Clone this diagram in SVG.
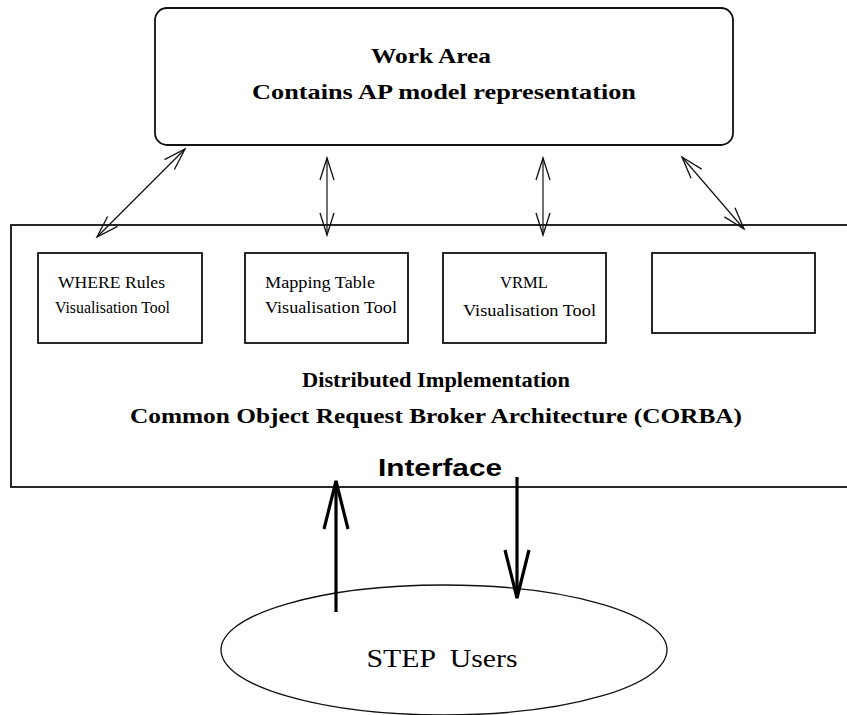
<svg xmlns="http://www.w3.org/2000/svg" width="847" height="715" viewBox="0 0 847 715">
<defs>
<style>
.box{fill:#fff;stroke:#111;stroke-width:1.8}
.serif{font-family:"Liberation Serif","Times New Roman",serif;fill:#000}
.b{font-weight:bold}
.thin{stroke:#111;stroke-width:1.2;fill:none}
.thick{stroke:#000;stroke-width:3.2;fill:none}
</style>
<marker id="ah" markerUnits="userSpaceOnUse" markerWidth="30" markerHeight="24" viewBox="-24 -12 28 24" refX="0" refY="0" orient="auto-start-reverse">
<path d="M-22,-7 L0,0 L-22,7" fill="none" stroke="#111" stroke-width="1.3"/>
</marker>
<marker id="ahb" markerUnits="userSpaceOnUse" markerWidth="60" markerHeight="34" viewBox="-52 -17 56 34" refX="0" refY="0" orient="auto">
<path d="M-48,-12 L0,0 L-48,12" fill="none" stroke="#000" stroke-width="3.2"/>
</marker>
</defs>
<rect width="847" height="715" fill="#fff"/>

<g id="main-area">
<rect class="box" x="11" y="225" width="850" height="262"/>
<text class="serif b" x="436" y="387" font-size="21" text-anchor="middle" textLength="268" lengthAdjust="spacingAndGlyphs">Distributed Implementation</text>
<text class="serif b" x="436" y="423" font-size="21" text-anchor="middle" textLength="612" lengthAdjust="spacingAndGlyphs">Common Object Request Broker Architecture (CORBA)</text>
<text x="440" y="476" font-family="'Liberation Sans',Arial,sans-serif" font-weight="bold" font-size="23" text-anchor="middle" textLength="124" lengthAdjust="spacingAndGlyphs">Interface</text>
</g>

<g id="work-area">
<rect class="box" x="155" y="8" width="578" height="137" rx="12" ry="12"/>
<text class="serif b" x="431" y="63" font-size="21" text-anchor="middle" textLength="120" lengthAdjust="spacingAndGlyphs">Work Area</text>
<text class="serif b" x="444" y="99" font-size="22" text-anchor="middle" textLength="384" lengthAdjust="spacingAndGlyphs">Contains AP model representation</text>
</g>

<g id="where-rules">
<rect class="box" x="38" y="253" width="164" height="90"/>
<text class="serif" x="58" y="288" font-size="16" textLength="107" lengthAdjust="spacingAndGlyphs">WHERE Rules</text>
<text class="serif" x="55" y="313" font-size="16" textLength="115" lengthAdjust="spacingAndGlyphs">Visualisation Tool</text>
</g>

<g id="mapping-table">
<rect class="box" x="245" y="253" width="163" height="90"/>
<text class="serif" x="265" y="288" font-size="16" textLength="110" lengthAdjust="spacingAndGlyphs">Mapping Table</text>
<text class="serif" x="265" y="313" font-size="16" textLength="132" lengthAdjust="spacingAndGlyphs">Visualisation Tool</text>
</g>

<g id="vrml">
<rect class="box" x="443" y="253" width="163" height="90"/>
<text class="serif" x="524" y="288" font-size="16" text-anchor="middle" textLength="48" lengthAdjust="spacingAndGlyphs">VRML</text>
<text class="serif" x="463" y="316" font-size="16" textLength="133" lengthAdjust="spacingAndGlyphs">Visualisation Tool</text>
</g>

<g id="empty-tool">
<rect class="box" x="652" y="253" width="163" height="80"/>
</g>

<g id="step-users">
<ellipse cx="444" cy="650" rx="223" ry="65" fill="#fff" stroke="#111" stroke-width="1.3"/>
<text class="serif" x="442" y="667" font-size="26" text-anchor="middle" textLength="151" lengthAdjust="spacingAndGlyphs" xml:space="preserve">STEP  Users</text>
</g>

<g id="connectors">
<line class="thin" x1="97" y1="237" x2="185" y2="149" marker-start="url(#ah)" marker-end="url(#ah)"/>
<line class="thin" x1="327" y1="235" x2="327" y2="158" marker-start="url(#ah)" marker-end="url(#ah)"/>
<line class="thin" x1="543" y1="235" x2="543" y2="158" marker-start="url(#ah)" marker-end="url(#ah)"/>
<line class="thin" x1="744" y1="229" x2="682" y2="157" marker-start="url(#ah)" marker-end="url(#ah)"/>
<line class="thick" x1="336" y1="612" x2="336" y2="481" marker-end="url(#ahb)"/>
<line class="thick" x1="517" y1="477" x2="517" y2="598" marker-end="url(#ahb)"/>
</g>
</svg>
